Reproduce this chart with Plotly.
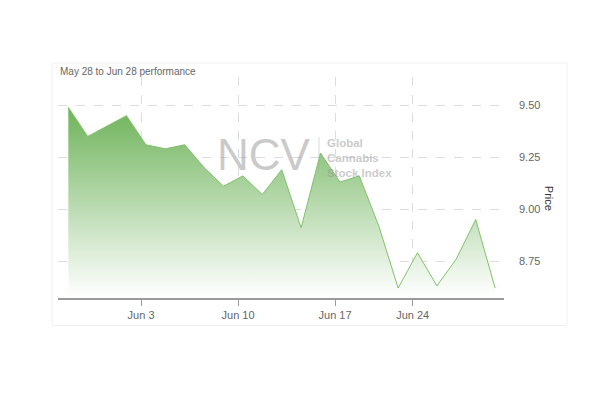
import plotly.graph_objects as go

# ---- data ----
dates = [
    "2024-05-28", "2024-05-29", "2024-05-30", "2024-05-31",
    "2024-06-03", "2024-06-04", "2024-06-05", "2024-06-06", "2024-06-07",
    "2024-06-10", "2024-06-11", "2024-06-12", "2024-06-13", "2024-06-14",
    "2024-06-17", "2024-06-18", "2024-06-20", "2024-06-21",
    "2024-06-24", "2024-06-25", "2024-06-26", "2024-06-27", "2024-06-28",
]
prices = [
    9.49, 9.35, 9.40, 9.45,
    9.31, 9.29, 9.31, 9.20, 9.11,
    9.16, 9.07, 9.19, 8.91, 9.27,
    9.13, 9.16, 8.92, 8.62,
    8.79, 8.63, 8.76, 8.95, 8.62,
]
tick_dates = ["2024-06-03", "2024-06-10", "2024-06-17", "2024-06-24"]
tick_labels = ["Jun 3", "Jun 10", "Jun 17", "Jun 24"]
y_ticks = [8.75, 9.00, 9.25, 9.50]
y_tick_labels = ["8.75", "9.00", "9.25", "9.50"]
holidays = ["2024-06-19"]

# data timestamps sit part-way into each trading day
x_vals = [d + " 06:00" for d in dates]

# page body has an 8px margin
OFF = 8
W, H = 600 - OFF, 397 - OFF
PL, PR, PT, PB = 58, 504, 77, 298.3          # plot area in window pixels
L, T = PL - OFF, PT - OFF
R, B = W - (PR - OFF), H - (PB - OFF)
PW, PH = PR - PL, PB - PT


def px(x):
    return (x - PL) / PW


def py(y):
    return (PB - y) / PH


FONT = "Liberation Sans, Arial, sans-serif"
WM = "rgba(150,150,150,0.5)"

fig = go.Figure()
fig.add_trace(go.Scatter(
    x=x_vals, y=prices, mode="lines",
    line=dict(color="rgb(128,194,108)", width=1),
    fill="tozeroy",
    fillgradient=dict(
        type="vertical",
        start=8.58, stop=9.5,
        colorscale=[[0, "rgba(255,255,255,1)"], [1, "rgb(108,178,88)"]],
    ),
    hoverinfo="x+y",
    showlegend=False,
))

fig.update_layout(
    width=W, height=H,
    margin=dict(l=L, r=R, t=T, b=B, pad=0),
    paper_bgcolor="white", plot_bgcolor="white",
    font=dict(family=FONT, size=11, color="#666666"),
    xaxis=dict(
        type="date",
        range=["2024-05-27 17:15", "2024-06-28 17:00"],
        rangebreaks=[dict(bounds=["sat", "mon"]), dict(values=holidays)],
        tickvals=tick_dates, ticktext=tick_labels,
        showgrid=True, gridcolor="#dcdcdc", griddash="dash", gridwidth=1,
        showline=True, linecolor="#9a9a9a", linewidth=2,
        ticks="outside", ticklen=6, tickcolor="#9a9a9a", tickwidth=1,
        tickfont=dict(size=11, color="#666666"),
        zeroline=False,
    ),
    yaxis=dict(
        side="right",
        range=[8.572, 9.636],
        tickvals=y_ticks, ticktext=y_tick_labels,
        showgrid=True, gridcolor="#dcdcdc", griddash="dash", gridwidth=1,
        showline=False, zeroline=False, ticks="",
        ticklabelstandoff=14,
        tickfont=dict(size=11, color="#666666"),
    ),
)

annotations = [
    dict(text="May 28 to Jun 28 performance", x=px(58), y=py(71.5),
         xanchor="left", yanchor="middle",
         font=dict(size=10, color="#666666")),
    dict(text="Price", x=px(549), y=py(198), textangle=90,
         xanchor="center", yanchor="middle",
         font=dict(size=11, color="#333333")),
    dict(text="NCV", x=px(264), y=py(155),
         xanchor="center", yanchor="middle",
         font=dict(size=44, color=WM)),
    dict(text="<b>Global<br>Cannabis<br>Stock Index</b>", x=px(325), y=py(158),
         xanchor="left", yanchor="middle", align="left",
         font=dict(size=11.5, color=WM)),
]
for a in annotations:
    a.update(xref="paper", yref="paper", showarrow=False)
fig.update_layout(annotations=annotations)

fig.add_shape(type="line", xref="paper", yref="paper",
              x0=px(319), x1=px(319), y0=py(137), y1=py(172),
              line=dict(color="rgba(170,170,170,0.45)", width=1))
fig.add_shape(type="rect", xref="paper", yref="paper",
              x0=px(52), x1=px(567), y0=py(63), y1=py(326),
              line=dict(color="#f0f0f0", width=1), layer="below")

fig.write_html("out.html")
